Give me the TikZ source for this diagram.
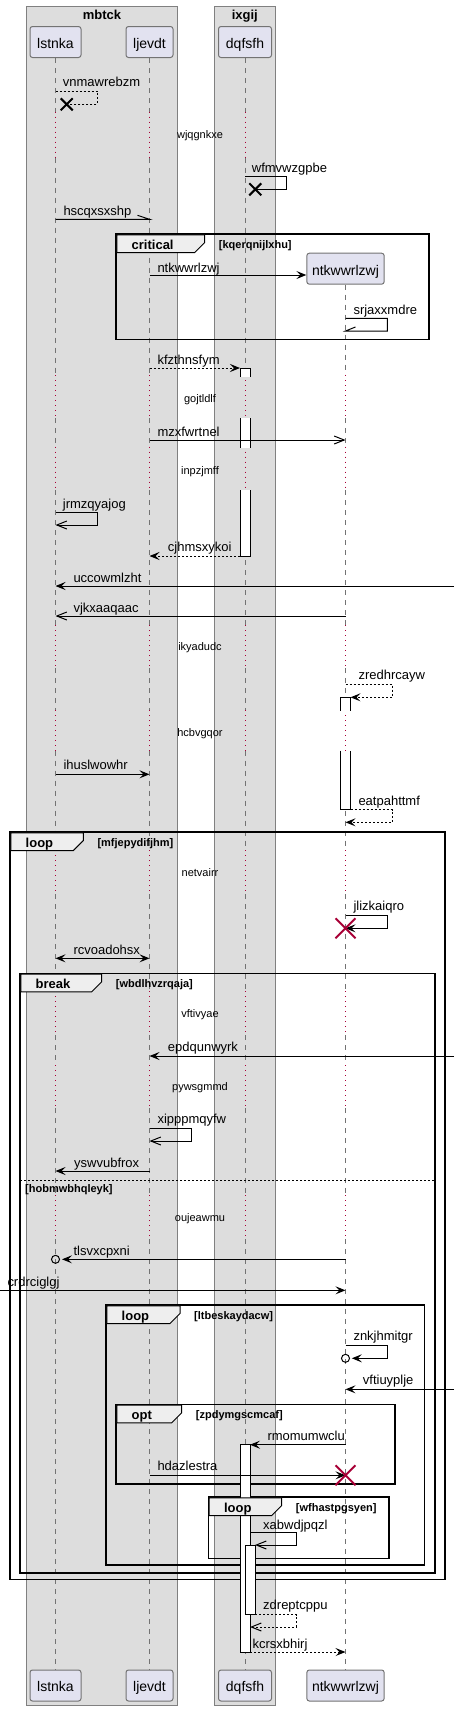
\documentclass[tikz,border=0pt]{standalone}
\usepackage{fontspec}
\setmainfont{Liberation Sans}
\usetikzlibrary{arrows.meta, positioning}
\definecolor{partfill}{RGB}{226,226,240}
\definecolor{boxfill}{RGB}{221,221,221}
\definecolor{tabfill}{RGB}{238,238,238}
\definecolor{lifered}{RGB}{168,0,54}

\begin{document}
\begin{tikzpicture}[
                x=1pt, y=-1pt,
                part/.style={shape=rectangle, rounded corners=2.5pt, fill=partfill, draw=black!55, line width=1pt, minimum height=31pt, inner xsep=0pt, text height=12.6pt, text depth=0pt, font=\fontsize{14}{16}\selectfont},
                groupbox/.style={fill=boxfill, draw=black!50, line width=1pt},
                lifeline/.style={black!55, line width=1pt, dash pattern=on 5pt off 5pt},
                delayline/.style={lifered, line width=1pt, dash pattern=on 1pt off 4pt},
                msg/.style={black, line width=1pt},
                dashmsg/.style={msg, dash pattern=on 2pt off 2pt},
                fullhead/.style={-{Stealth[length=10pt, width=8pt, inset=4pt]}},
                openhead/.style={-{Straight Barb[length=10pt, width=8pt]}},
                msglabel/.style={anchor=west, inner sep=0pt, text height=9.4pt, text depth=0pt, font=\fontsize{13}{15}\selectfont},
                delaylabel/.style={inner sep=0pt, text height=8pt, text depth=0pt, font=\fontsize{11}{13}\selectfont},
                actbox/.style={fill=white, draw=black, line width=1pt},
                fraline/.style={draw=black, line width=1.6pt},
                fratab/.style={fill=tabfill, draw=black, line width=1pt},
                fralabel/.style={anchor=west, inner sep=0pt, text height=9.4pt, text depth=0pt, font=\bfseries\fontsize{13}{15}\selectfont},
                fraguard/.style={anchor=west, inner sep=0pt, text height=8pt, text depth=0pt, font=\bfseries\fontsize{11}{13}\selectfont},
                lostx/.style={black, line width=2pt},
                killx/.style={lifered, line width=2pt}
                ]
                \useasboundingbox (0,0) rectangle (459,1711);

                %% Boxes
                \draw[groupbox] (26.7,6) rectangle (177.3,1705.7);
                \draw[groupbox] (214.3,6) rectangle (275.3,1705.7);
                \node[fralabel, anchor=center] (mbtck) at (102,15) {mbtck};
                \node[fralabel, anchor=center] (ixgij) at (244.8,15) {ixgij};

                %% Participants
                \node[part, minimum width=51pt] (lstnka) at (55.5,42) {lstnka};
                \node[part, minimum width=47pt] (ljevdt) at (149.5,42) {ljevdt};
                \node[part, minimum width=53pt] (dqfsfh) at (245,42) {dqfsfh};
                \node[part, minimum width=77.3pt] (ntkwwrlzwj) at (345.5,268.7) {ntkwwrlzwj};
                \node[part, minimum width=51pt] (lstnka-end) at (55.5,1685.5) {lstnka};
                \node[part, minimum width=47pt] (ljevdt-end) at (149.5,1685.5) {ljevdt};
                \node[part, minimum width=53pt] (dqfsfh-end) at (245,1685.5) {dqfsfh};
                \node[part, minimum width=77.3pt] (ntkwwrlzwj-end) at (345.5,1685.5) {ntkwwrlzwj};

                %% Lifelines
                \foreach \p in {lstnka,ljevdt,dqfsfh} {
                  \draw[lifeline] (\p.south) -- (\p |- 0,111.7);
                  \draw[delayline] (\p |- 0,111.7) -- (\p |- 0,157.7);
                  \draw[lifeline] (\p |- 0,157.7) -- (\p |- 0,375);
                }
                \draw[lifeline] (ntkwwrlzwj.south) -- (ntkwwrlzwj |- 0,375);
                \foreach \p in {lstnka,ljevdt,dqfsfh,ntkwwrlzwj} {
                  \foreach \ya/\yb in {418.3/446.7, 490/625, 668/710, 750.7/850, 894/991, 1035/1065, 1108/1195}
                    \draw[lifeline] (\p |- 0,\ya) -- (\p |- 0,\yb);
                  \foreach \ya/\yb in {375/418.3, 446.7/490, 625/668, 710/750.7, 850/894, 991/1035, 1065/1108, 1195/1239}
                    \draw[delayline] (\p |- 0,\ya) -- (\p |- 0,\yb);
                  \draw[lifeline] (\p |- 0,1239) -- (\p-end.north);
                }

                % Delays
                \foreach \yy/\txt in {134.7/wjqgnkxe, 398.3/gojtldlf, 470.7/inpzjmff, 646.7/ikyadudc, 732.3/hcbvgqor, 872.3/netvairr, 1013.3/vftivyae, 1086.7/pywsgmmd, 1217.3/oujeawmu}
                  \node[delaylabel] (delay-\txt) at (200,\yy) {\txt};

                %% Frames
                \foreach \xa/\ya/\xb/\yb in {116/234/429/339.3, 10/832/445/1579.3, 20/973.3/435/1572.7,
                    106/1305/424.3/1565, 116/1404.3/395/1483.7, 208.3/1497/388.7/1558.3}
                  \draw[fraline] (\xa,\ya) rectangle (\xb,\yb);
                \draw[msg, dash pattern=on 2pt off 2pt] (20,1180.3) -- (435,1180.3);
                \node[fraguard] (guard-else) at (25,1188.7) {[hobmwbhqleyk]};

                %% Activations
                \filldraw[actbox] (240,376.7) -- (240,368) -- (250,368) -- (250,376.7);
                \fill[white] (240,418.3) rectangle (250,448.3);
                \draw[actbox] (240,418.3) -- (240,448.3) (250,418.3) -- (250,448.3);
                \filldraw[actbox] (240,490) -- (240,556) -- (250,556) -- (250,490);
                \filldraw[actbox] (340.5,710.7) -- (340.5,697.3) -- (350.5,697.3) -- (350.5,710.7);
                \filldraw[actbox] (340.5,750.7) -- (340.5,809.7) -- (350.5,809.7) -- (350.5,750.7);
                \draw[actbox] (240,1444.7) rectangle (250,1652);
                \draw[actbox] (245,1545) rectangle (255,1614.7);

                % Frame tabs
                \foreach \xa/\ya/\tr/\kind/\guard [count=\i] in {
                    116/234/204.7/critical/[kqerqnijlxhu],
                    10/832/83.3/loop/[mfjepydifjhm],
                    20/973.3/101.7/break/[wbdlhvzrqaja],
                    106/1305/180/loop/[ltbeskaydacw],
                    116/1404.3/181.7/opt/[zpdymgscmcaf],
                    208.3/1497/281.7/loop/[wfhastpgsyen]} {
                  \filldraw[fratab] (\xa+0.8,\ya+0.8) -- (\tr,\ya+0.8) -- (\tr,\ya+8.5) -- (\tr-10,\ya+18.5) -- (\xa+0.8,\ya+18.5) -- cycle;
                  \node[fralabel] (frame\i) at (\xa+15.5,\ya+10.3) {\kind};
                  \node[fraguard] (guard\i) at (\tr+14,\ya+10.3) {\guard};
                }

                \coordinate (dqL) at (240,0);
                \coordinate (dqR) at (250,0);
                \coordinate (dqRR) at (255,0);
                \coordinate (ntR) at (350.5,0);
                \coordinate (leftedge) at (0,0);
                \coordinate (rightedge) at (454,0);
                \coordinate (lost1) at (66.7,104.3);
                \coordinate (lost2) at (255.3,189.3);
                \coordinate (kill1) at (345.5,928.3);
                \coordinate (kill2) at (345.5,1475.3);

                %% Messages
                \draw[dashmsg] (lstnka |- 0,91) -- (97.3,91) -- (97.3,104.3) -- (lost1);
                \draw[lostx] (lost1) +(-6,-6) -- +(6,6) (lost1) +(-6,6) -- +(6,-6);
                \draw[msg] (dqfsfh |- 0,176) -- (286.3,176) -- (286.3,189.3) -- (lost2);
                \draw[lostx] (lost2) +(-6,-6) -- +(6,6) (lost2) +(-6,6) -- +(6,-6);
                \draw[msg] (lstnka |- 0,219.3) -- (ljevdt |- 0,219.3) -- ++(-12,-4);
                \draw[msg, fullhead] (ljevdt |- 0,275) -- (ntkwwrlzwj.west |- 0,275);
                \draw[msg] (ntkwwrlzwj |- 0,318.3) -- (387.3,318.3) -- (387.3,331) -- (ntkwwrlzwj |- 0,331) -- ++(10,-4);
                \draw[dashmsg, fullhead] (ljevdt |- 0,368) -- (dqL |- 0,368);
                \draw[msg, openhead] (ljevdt |- 0,440) -- (ntkwwrlzwj |- 0,440);
                \draw[msg, openhead] (lstnka |- 0,512.3) -- (97.3,512.3) -- (97.3,525) -- (lstnka |- 0,525);
                \draw[dashmsg, fullhead] (dqL |- 0,556) -- (ljevdt |- 0,556);
                \draw[msg, fullhead] (rightedge |- 0,586) -- (lstnka |- 0,586);
                \draw[msg, openhead] (ntkwwrlzwj |- 0,616) -- (lstnka |- 0,616);
                \draw[dashmsg, fullhead] (ntkwwrlzwj |- 0,684.3) -- (392.3,684.3) -- (392.3,697.3) -- (ntR |- 0,697.3);
                \draw[msg, fullhead] (lstnka |- 0,774.3) -- (ljevdt |- 0,774.3);
                \draw[dashmsg, fullhead] (ntR |- 0,809.7) -- (392.3,809.7) -- (392.3,822.3) -- (ntkwwrlzwj |- 0,822.3);
                \draw[msg, fullhead] (ntkwwrlzwj |- 0,915) -- (387.3,915) -- (387.3,928.3) -- (kill1);
                \draw[killx] (kill1) +(-10,-10) -- +(10,10) (kill1) +(-10,10) -- +(10,-10);
                \draw[msg, {Stealth[length=10pt, width=8pt, inset=4pt]}-{Stealth[length=10pt, width=8pt, inset=4pt]}] (lstnka |- 0,958.3) -- (ljevdt |- 0,958.3);
                \draw[msg, fullhead] (rightedge |- 0,1056) -- (ljevdt |- 0,1056);
                \draw[msg, openhead] (ljevdt |- 0,1128.3) -- (191.3,1128.3) -- (191.3,1141) -- (ljevdt |- 0,1141);
                \draw[msg, fullhead] (ljevdt |- 0,1171) -- (lstnka |- 0,1171);
                \draw[msg, fullhead] (ntkwwrlzwj |- 0,1259.3) -- (62,1259.3);
                \draw[msg] (lstnka |- 0,1259.3) circle[radius=4];
                \draw[msg, fullhead] (leftedge |- 0,1290.3) -- (ntkwwrlzwj |- 0,1290.3);
                \draw[msg, fullhead] (ntkwwrlzwj |- 0,1345) -- (387.3,1345) -- (387.3,1358.3) -- (351.8,1358.3);
                \draw[msg] (ntkwwrlzwj |- 0,1358.3) circle[radius=4];
                \draw[msg, fullhead] (rightedge |- 0,1389.3) -- (ntkwwrlzwj |- 0,1389.3);
                \draw[msg, fullhead] (ntkwwrlzwj |- 0,1444.7) -- (dqR |- 0,1444.7);
                \draw[msg, fullhead] (ljevdt |- 0,1475.3) -- (kill2);
                \draw[killx] (kill2) +(-10,-10) -- +(10,10) (kill2) +(-10,10) -- +(10,-10);
                \draw[msg, openhead] (dqR |- 0,1532.7) -- (296.3,1532.7) -- (296.3,1545) -- (dqRR |- 0,1545);
                \draw[dashmsg, openhead] (dqRR |- 0,1614.7) -- (296.3,1614.7) -- (296.3,1627) -- (dqR |- 0,1627);
                \draw[dashmsg, fullhead] (dqR |- 0,1652) -- (ntkwwrlzwj |- 0,1652);

                % Message labels
                \foreach \xx/\yy/\txt in {62.7/81.7/vnmawrebzm, 251.7/167.7/wfmvwzgpbe, 63.3/210.7/hscqxsxshp,
                    157.3/267.3/ntkwwrlzwj, 353.3/309.3/srjaxxmdre, 157.3/359.3/kfzthnsfym, 157.3/431.7/mzxfwrtnel,
                    62.7/503.3/jrmzqyajog, 167.7/546.7/cjhmsxykoi, 73.3/577.3/uccowmlzht, 73.3/607.3/vjkxaaqaac,
                    358.3/675/zredhrcayw, 63.3/765/ihuslwowhr, 358.3/800.7/eatpahttmf, 353.3/906/jlizkaiqro,
                    73.3/950/rcvoadohsx, 167.7/1046.7/epdqunwyrk, 157.3/1119/xipppmqyfw, 74/1162.7/yswvubfrox,
                    73.3/1250.7/tlsvxcpxni, 7.3/1281.7/crdrciglgj, 353.3/1336/znkjhmitgr, 362.7/1380/vftiuyplje,
                    267.3/1435.7/rmomumwclu, 157.3/1466/hdazlestra, 263/1524.3/xabwdjpqzl, 263/1605/zdreptcppu,
                    252.3/1643.3/kcrsxbhirj}
                  \node[msglabel] (lbl-\txt) at (\xx,\yy) {\txt};
\end{tikzpicture}
\end{document}
